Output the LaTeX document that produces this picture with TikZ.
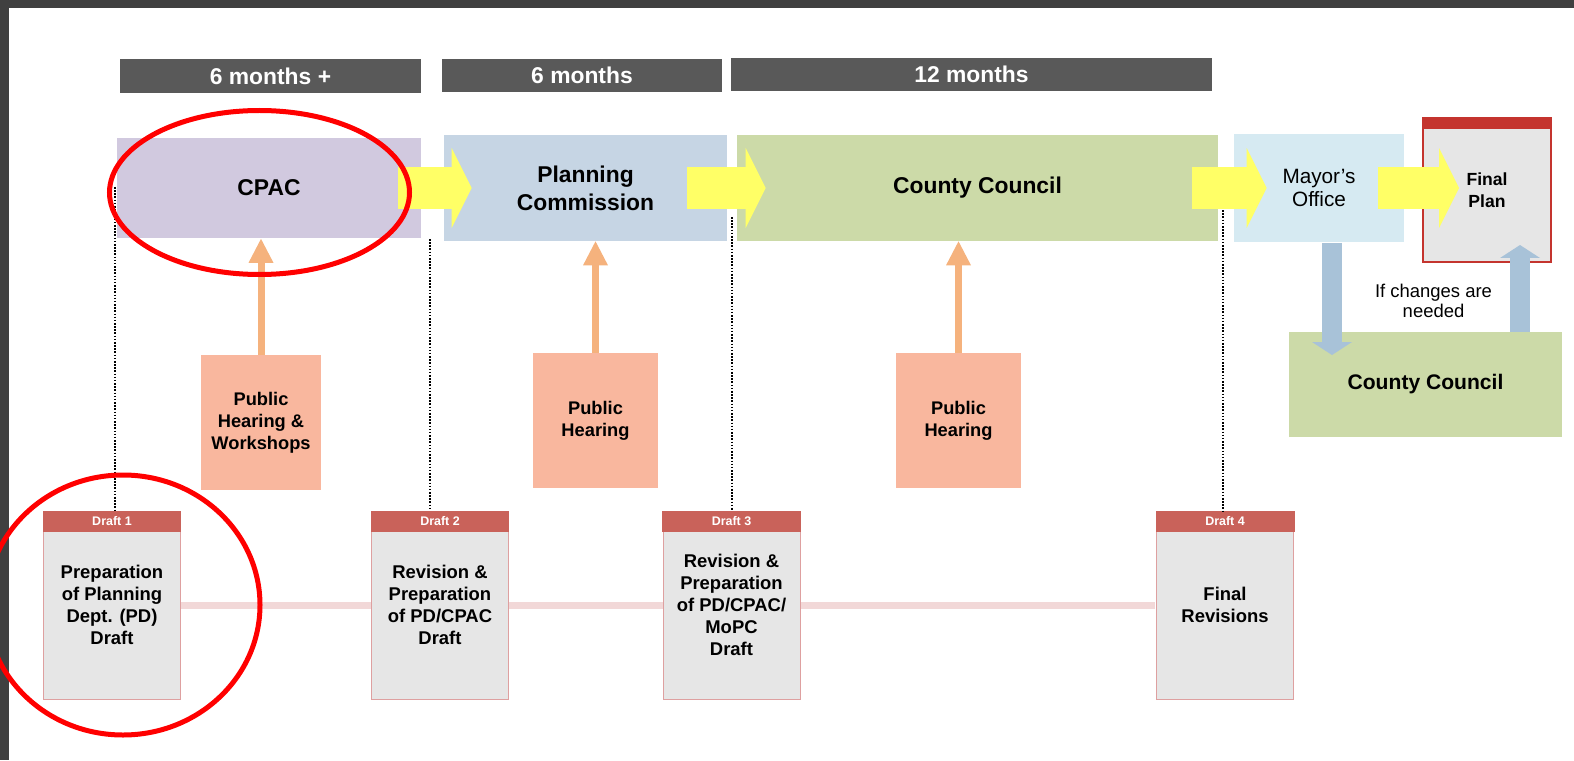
\documentclass[tikz,border=0pt]{standalone}
\usepackage{fontspec}
\setmainfont{Liberation Sans}
\usepackage{tikz}
\usetikzlibrary{arrows.meta}
\usetikzlibrary{calc}
\usetikzlibrary{positioning}
\definecolor{barcol}{RGB}{89,89,89}
\definecolor{cpaccol}{RGB}{209,201,223}
\definecolor{pccol}{RGB}{198,213,228}
\definecolor{cccol}{RGB}{204,218,168}
\definecolor{mayorcol}{RGB}{214,234,242}
\definecolor{plancol}{RGB}{230,230,230}
\definecolor{planred}{RGB}{196,52,46}
\definecolor{flowcol}{RGB}{255,255,102}
\definecolor{hearcol}{RGB}{249,183,158}
\definecolor{hearline}{RGB}{245,178,125}
\definecolor{backcol}{RGB}{168,194,216}
\definecolor{draftred}{RGB}{201,98,90}
\definecolor{draftedge}{RGB}{222,160,160}
\definecolor{pinkline}{RGB}{242,216,216}
\definecolor{framecol}{RGB}{64,64,64}
\tikzstyle{period} = [fill=barcol, text=white, inner sep=0pt,
    font=\bfseries\fontsize{13}{15}\selectfont]
\tikzstyle{stage} = [inner sep=0pt, align=center,
    font=\bfseries\fontsize{13}{16}\selectfont]
\tikzstyle{hearing} = [fill=hearcol, inner sep=0pt, align=center, minimum height=2.7cm,
    font=\bfseries\fontsize{10.4}{12.5}\selectfont]
\tikzstyle{draftbox} = [draw=draftedge, fill=plancol, inner sep=0pt, align=center,
    minimum width=2.74cm, minimum height=3.76cm, font=\bfseries\fontsize{10.5}{12.6}\selectfont]
\tikzstyle{drafthead} = [fill=draftred, text=white, anchor=north, inner sep=0pt,
    minimum width=2.78cm, minimum height=0.42cm, font=\bfseries\fontsize{7.1}{8}\selectfont]
\tikzstyle{flowarrow} = [draw=flowcol, line width=0.84cm, -{Triangle[length=0.4cm,width=1.6cm,line width=0pt]}]
\tikzstyle{heararrow} = [draw=hearline, line width=0.14cm, -{Triangle[length=0.48cm,width=0.5cm,line width=0pt]}]
\tikzstyle{backarrow} = [draw=backcol, line width=0.4cm, -{Triangle[length=0.26cm,width=0.8cm,line width=0pt]}]
\tikzstyle{dotline} = [line width=0.9pt, dash pattern=on 0.9pt off 0.9pt]
\tikzstyle{ring} = [draw=red, line width=0.1cm]

\begin{document}
\begin{tikzpicture}[x=0.02cm, y=-0.02cm]
    \useasboundingbox (0,0) rectangle (1574,760);
    \fill [framecol] (0,0) rectangle (1574,8);
    \fill [framecol] (0,0) rectangle (9,760);
    \node [period, minimum width=6.02cm, minimum height=0.68cm] at (270.5,76) (p1) {6 months +};
    \node [period, minimum width=5.62cm, minimum height=0.66cm] at (582,75.5) (p2) {6 months};
    \node [period, minimum width=9.62cm, minimum height=0.66cm] at (971.5,74.5) (p3) {12 months};
    \node [stage, fill=cpaccol, minimum width=6.08cm, minimum height=2.02cm] at (269,188) (cpac) {CPAC};
    \node [stage, fill=pccol, minimum width=5.66cm, minimum height=2.12cm] at (585.5,188) (pc) {Planning\\Commission};
    \node [stage, fill=cccol, minimum width=9.62cm, minimum height=2.12cm] at (977.5,188) (cc) {County Council};
    \node [stage, fill=mayorcol, minimum width=3.4cm, minimum height=2.18cm,
        font=\fontsize{11.8}{13.6}\selectfont] at (1319,188) (mayor) {Mayor’s\\Office};
    \node [stage, fill=plancol, draw=planred, line width=1.1pt, minimum width=2.56cm, minimum height=2.88cm,
        font=\bfseries\fontsize{10}{12.5}\selectfont] at (1487,190) (plan) {Final\\Plan};
    \node [fill=planred, anchor=north, inner sep=0pt, minimum width=2.56cm, minimum height=0.24cm] at (plan.north) (planbar) {};
    \node [hearing, minimum width=2.4cm] at (261,422.5) (ph1) {Public\\Hearing \&\\Workshops};
    \node [hearing, minimum width=2.5cm] at (595.5,420.5) (ph2) {Public\\Hearing};
    \node [hearing, minimum width=2.5cm] at (958.5,420.5) (ph3) {Public\\Hearing};
    \node [stage, fill=cccol, minimum width=5.46cm, minimum height=2.1cm,
        font=\bfseries\fontsize{12}{14}\selectfont] at (1425.5,384.5) (cc2) {County Council};
    \node [align=center, font=\fontsize{10.5}{11.7}\selectfont] at (1433.5,301) (note) {If changes are\\needed};
    \coordinate (tl) at (180,605);
    \coordinate (tr) at (1155,605);
    \draw [pinkline, line width=0.14cm] (tl) -- (tr);
    \node [draftbox] at (112,605) (d1) {Preparation\\of Planning\\Dept. (PD)\\Draft};
    \node [drafthead] at (d1.north) (d1h) {Draft 1};
    \node [draftbox] at (440,605) (d2) {Revision \&\\Preparation\\of PD/CPAC\\Draft};
    \node [drafthead] at (d2.north) (d2h) {Draft 2};
    \node [draftbox] at (731.5,605) (d3) {Revision \&\\Preparation\\of PD/CPAC/\\MoPC\\Draft};
    \node [drafthead] at (d3.north) (d3h) {Draft 3};
    \node [draftbox] at (1225,605) (d4) {Final\\Revisions};
    \node [drafthead] at (d4.north) (d4h) {Draft 4};
    \coordinate (v1) at (115,187);
    \coordinate (v2) at (430,239);
    \coordinate (v3) at (732,217);
    \coordinate (v4) at (1223,207);
    \draw [dotline] (v1) -- (v1 |- d1h.north);
    \draw [dotline] (v2) -- (v2 |- d2h.north);
    \draw [dotline] (v3) -- (v3 |- d3h.north);
    \draw [dotline] (v4) -- (v4 |- d4h.north);
    \draw [flowarrow] ([xshift=-0.46cm]cpac.east) -- ([xshift=0.56cm]pc.west);
    \draw [flowarrow] ([xshift=-0.8cm]pc.east) -- ([xshift=0.58cm]cc.west);
    \draw [flowarrow] ([xshift=-0.52cm]cc.east) -- ([xshift=0.66cm]mayor.west);
    \draw [flowarrow] ([xshift=-0.52cm]mayor.east) -- ($(plan.west |- mayor.east)+(37,0)$);
    \draw [heararrow] (ph1.north) -- (ph1.north |- cpac.south);
    \draw [heararrow] (ph2.north) -- (ph2.north |- pc.south);
    \draw [heararrow] (ph3.north) -- (ph3.north |- cc.south);
    \coordinate (dn) at (1332,355);
    \coordinate (up) at (1520,245);
    \draw [backarrow] (dn |- mayor.south) -- (dn);
    \draw [backarrow] (up |- cc2.north) -- (up);
    \draw [ring] (259.5,192.5) ellipse [x radius=150, y radius=82];
    \draw [ring] (123,605) ellipse [x radius=137, y radius=130];
\end{tikzpicture}
\end{document}
